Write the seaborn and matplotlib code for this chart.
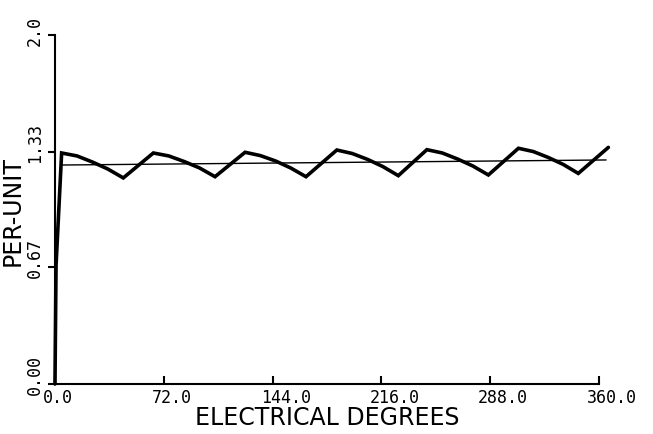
import matplotlib
matplotlib.use("Agg")
import matplotlib.pyplot as plt
import matplotlib.transforms as mtransforms
import seaborn as sns
import pandas as pd

# waveform (electrical degrees, per-unit)
curve_deg = [0.0, 0.7, 4.4, 14.6, 24.8, 35.0, 45.2,
             65.1, 75.3, 85.5, 95.7, 105.9,
             125.8, 135.9, 146.0, 156.0, 166.1,
             186.5, 196.7, 206.9, 217.0, 227.2,
             246.1, 256.3, 266.5, 276.6, 286.8,
             306.7, 316.6, 326.5, 336.4, 346.3,
             366.2]
curve_pu = [0.0, 0.68, 1.324, 1.307, 1.272, 1.232, 1.181,
            1.324, 1.307, 1.275, 1.238, 1.188,
            1.328, 1.309, 1.278, 1.238, 1.188,
            1.341, 1.321, 1.287, 1.246, 1.194,
            1.343, 1.324, 1.289, 1.249, 1.198,
            1.351, 1.332, 1.298, 1.258, 1.207,
            1.356]

# thin average line
avg_deg = [4.6, 364.7]
avg_pu = [1.255, 1.284]

x_ticks = [0, 72, 144, 216, 288, 360]
x_tick_labels = ["0.0", "72.0", "144.0", "216.0", "288.0", "360.0"]
y_ticks = [0.0, 0.67, 1.33, 2.0]
y_tick_labels = ["0.00", "0.67", "1.33", "2.0"]

sns.set_style("ticks")
plt.rcParams["font.family"] = ["DejaVu Sans"]

df_curve = pd.DataFrame({"deg": curve_deg, "pu": curve_pu})
df_avg = pd.DataFrame({"deg": avg_deg, "pu": avg_pu})

fig = plt.figure(figsize=(6.53, 4.35), dpi=100)
ax = fig.add_axes([0.0842, 0.1149, 0.8331, 0.8023])

sns.lineplot(data=df_avg, x="deg", y="pu", color="black", linewidth=1.0,
             estimator=None, sort=False, ax=ax)
sns.lineplot(data=df_curve, x="deg", y="pu", color="black", linewidth=2.6,
             estimator=None, sort=False, ax=ax)
for line in ax.lines:
    line.set_clip_on(False)
    line.set_solid_joinstyle("miter")

ax.set_xlim(0, 360)
ax.set_ylim(0, 2.0)
sns.despine(ax=ax)
for side in ["left", "bottom"]:
    ax.spines[side].set_linewidth(1.5)
    ax.spines[side].set_color("black")

ax.set_xticks(x_ticks, labels=x_tick_labels)
ax.set_yticks(y_ticks, labels=y_tick_labels)
ax.tick_params(axis="x", direction="in", length=6, width=1.5, pad=3,
               labelsize=12, colors="black")
ax.tick_params(axis="y", direction="out", length=5, width=1.5, pad=3,
               labelsize=12, colors="black")

dx = mtransforms.ScaledTranslation(-12 / 100, 0, fig.dpi_scale_trans)
for lab in ax.get_xticklabels():
    lab.set_family("DejaVu Sans Mono")
    lab.set_horizontalalignment("left")
    lab.set_transform(lab.get_transform() + dx)

dy = mtransforms.ScaledTranslation(0, -10 / 100, fig.dpi_scale_trans)
for lab in ax.get_yticklabels():
    lab.set_family("DejaVu Sans Mono")
    lab.set_rotation(90)
    lab.set_verticalalignment("bottom")
    lab.set_transform(lab.get_transform() + dy)

ax.set_xlabel("ELECTRICAL DEGREES", fontsize=17, labelpad=-1, color="black")
ax.set_ylabel("PER-UNIT", fontsize=17, labelpad=1, color="black")

fig.savefig("out.png", dpi=100, facecolor="white")
